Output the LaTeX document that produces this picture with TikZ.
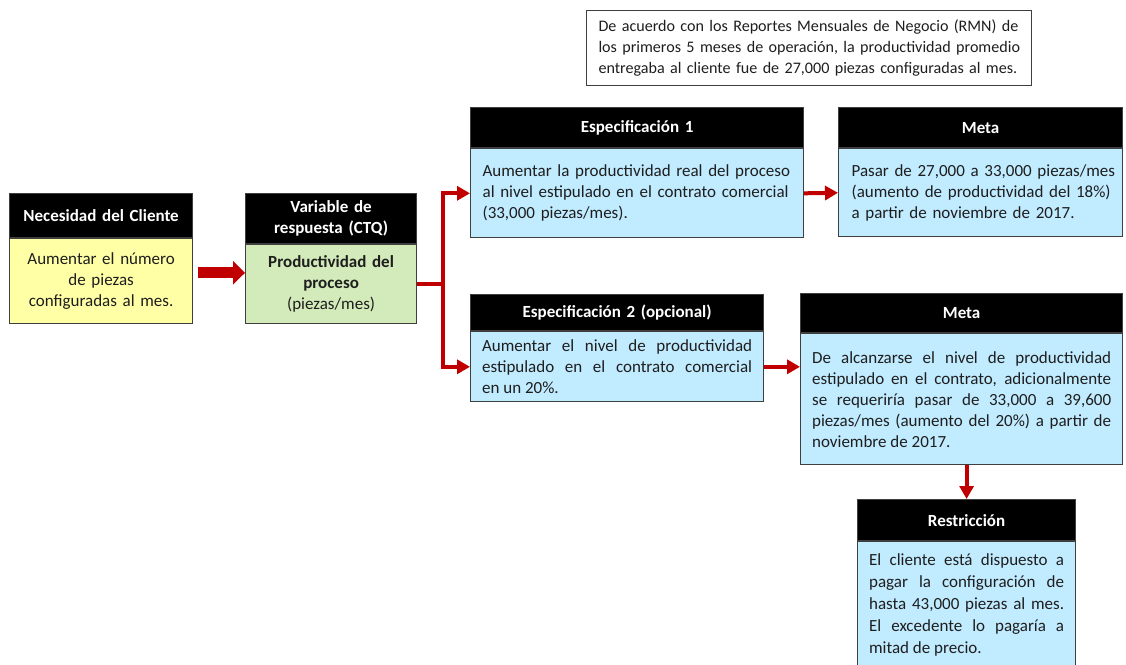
\documentclass[tikz,border=0pt]{standalone}
\usepackage{fontspec}
\setmainfont{Carlito}
\usetikzlibrary{arrows.meta,calc}

\definecolor{edge}{HTML}{3F3F3F}
\definecolor{ink}{HTML}{1E1E1E}
\definecolor{needfill}{HTML}{FFFFA6}
\definecolor{ctqfill}{HTML}{D3EBBA}
\definecolor{specfill}{HTML}{C1EBFF}
\definecolor{arrowred}{HTML}{C00000}

\newcommand{\txtsize}{\fontsize{17}{21}\selectfont}

\begin{document}
\begin{tikzpicture}[x=1pt,y=-1pt,
  every node/.style={font=\txtsize, text=ink},
  hdr/.style={draw=edge, line width=1.2pt, fill=black, anchor=north west,
    inner sep=0pt, align=center, font=\txtsize\bfseries, text=white},
  bdy/.style={draw=edge, line width=1.2pt, anchor=north west, inner ysep=0pt},
  flow/.style={draw=arrowred, line width=4pt, -{Triangle[length=13pt,width=14pt]}},
  redline/.style={draw=arrowred, line width=4pt},
  bigflow/.style={draw=arrowred, line width=11pt, -{Triangle[length=12pt,width=23pt]}}]

\useasboundingbox (0,0) rectangle (1126,664);

% note on monthly reports
\node[draw=edge, line width=1pt, anchor=north west, minimum width=445pt,
  minimum height=75pt, inner xsep=12pt, inner ysep=0pt, text width=421pt, align=left,
  font=\fontsize{16.1}{21}\selectfont]
  (note) at (586,10)
  {\mbox{De acuerdo con los Reportes Mensuales de Negocio (RMN) de}\\
   \mbox{los primeros 5 meses de operación, la productividad promedio}\\
   \mbox{entregaba al cliente fue de 27,000 piezas configuradas al mes.}};

% customer need
\node[hdr, minimum width=183pt, minimum height=44pt, text width=183pt] (needhdr) at (9,193)
  {Necesidad del Cliente};
\node[bdy, fill=needfill, minimum width=183pt, minimum height=85pt, inner xsep=8pt,
  text width=167pt, align=center] (needbody) at (needhdr.south west)
  {Aumentar el número\\de piezas\\configuradas al mes.};

% response variable
\node[hdr, minimum width=171pt, minimum height=50pt, text width=171pt] (ctqhdr) at (245,193)
  {Variable de\\respuesta (CTQ)};
\node[bdy, fill=ctqfill, minimum width=171pt, minimum height=79pt, inner xsep=8pt,
  text width=155pt, align=center] (ctqbody) at (ctqhdr.south west)
  {\textbf{Productividad del}\\\textbf{proceso}\\(piezas/mes)};

% specification 1
\node[hdr, minimum width=333pt, minimum height=40pt, text width=333pt] (spec1hdr) at (470,107)
  {Especificación 1};
\node[bdy, fill=specfill, minimum width=333pt, minimum height=89pt, inner xsep=12pt,
  text width=309pt, align=left] (spec1body) at (spec1hdr.south west)
  {\mbox{Aumentar la productividad real del proceso}\\
   \mbox{al nivel estipulado en el contrato comercial}\\
   \mbox{(33,000 piezas/mes).}};

% goal 1
\node[hdr, minimum width=284pt, minimum height=40pt, text width=284pt] (meta1hdr) at (838,107)
  {Meta};
\node[bdy, fill=specfill, minimum width=284pt, minimum height=88pt, inner xsep=13pt,
  text width=258pt, align=left] (meta1body) at (meta1hdr.south west)
  {\mbox{Pasar de 27,000 a 33,000 piezas/mes}\\
   \mbox{(aumento de productividad del 18\%)}\\
   \mbox{a partir de noviembre de 2017.}};

% specification 2
\node[hdr, minimum width=293pt, minimum height=36pt, text width=293pt] (spec2hdr) at (470,294)
  {Especificación 2 (opcional)};
\node[bdy, fill=specfill, minimum width=293pt, minimum height=70pt, inner xsep=11.5pt,
  text width=270pt, align=justify] (spec2body) at (spec2hdr.south west)
  {Aumentar el nivel de productividad\linebreak
   estipulado en el contrato comercial\linebreak
   en un 20\%.};

% goal 2
\node[hdr, minimum width=322pt, minimum height=39pt, text width=322pt] (meta2hdr) at (800,293)
  {Meta};
\node[bdy, fill=specfill, minimum width=322pt, minimum height=131pt, inner xsep=11.5pt,
  text width=299pt, align=justify] (meta2body) at (meta2hdr.south west)
  {De alcanzarse el nivel de productividad\linebreak
   estipulado en el contrato, adicionalmente\linebreak
   se requeriría pasar de 33,000 a 39,600\linebreak
   piezas/mes (aumento del 20\%) a partir de\linebreak
   noviembre de 2017.};

% restriction
\node[hdr, minimum width=218pt, minimum height=41pt, text width=218pt] (restrhdr) at (857,499)
  {Restricción};
\node[bdy, fill=specfill, minimum width=218pt, minimum height=126pt, inner xsep=11.5pt,
  text width=195pt, align=justify, font=\fontsize{17}{22}\selectfont] (restrbody)
  at (restrhdr.south west)
  {El cliente está dispuesto a\linebreak
   pagar la configuración de\linebreak
   hasta 43,000 piezas al mes.\linebreak
   El excedente lo pagaría a\linebreak
   mitad de precio.};

% connectors
\coordinate (bigstart) at ($(needbody.east)+(5,-8.5)$);
\draw[bigflow] (bigstart) -- (bigstart -| ctqbody.west);

\coordinate (fork) at ($(ctqbody.east)+(26,0)$);
\draw[redline] (ctqbody.east) -- (fork);
\draw[flow] (fork) |- (spec1body.west);
\draw[flow] (fork) |- (spec2body.west);

\draw[flow] (spec1body.east) -- (meta1body.west);
\draw[flow] (spec2body.east) -- (spec2body.east -| meta2body.west);
\draw[flow] (meta2body.south -| restrhdr.north) -- (restrhdr.north);

\end{tikzpicture}
\end{document}
